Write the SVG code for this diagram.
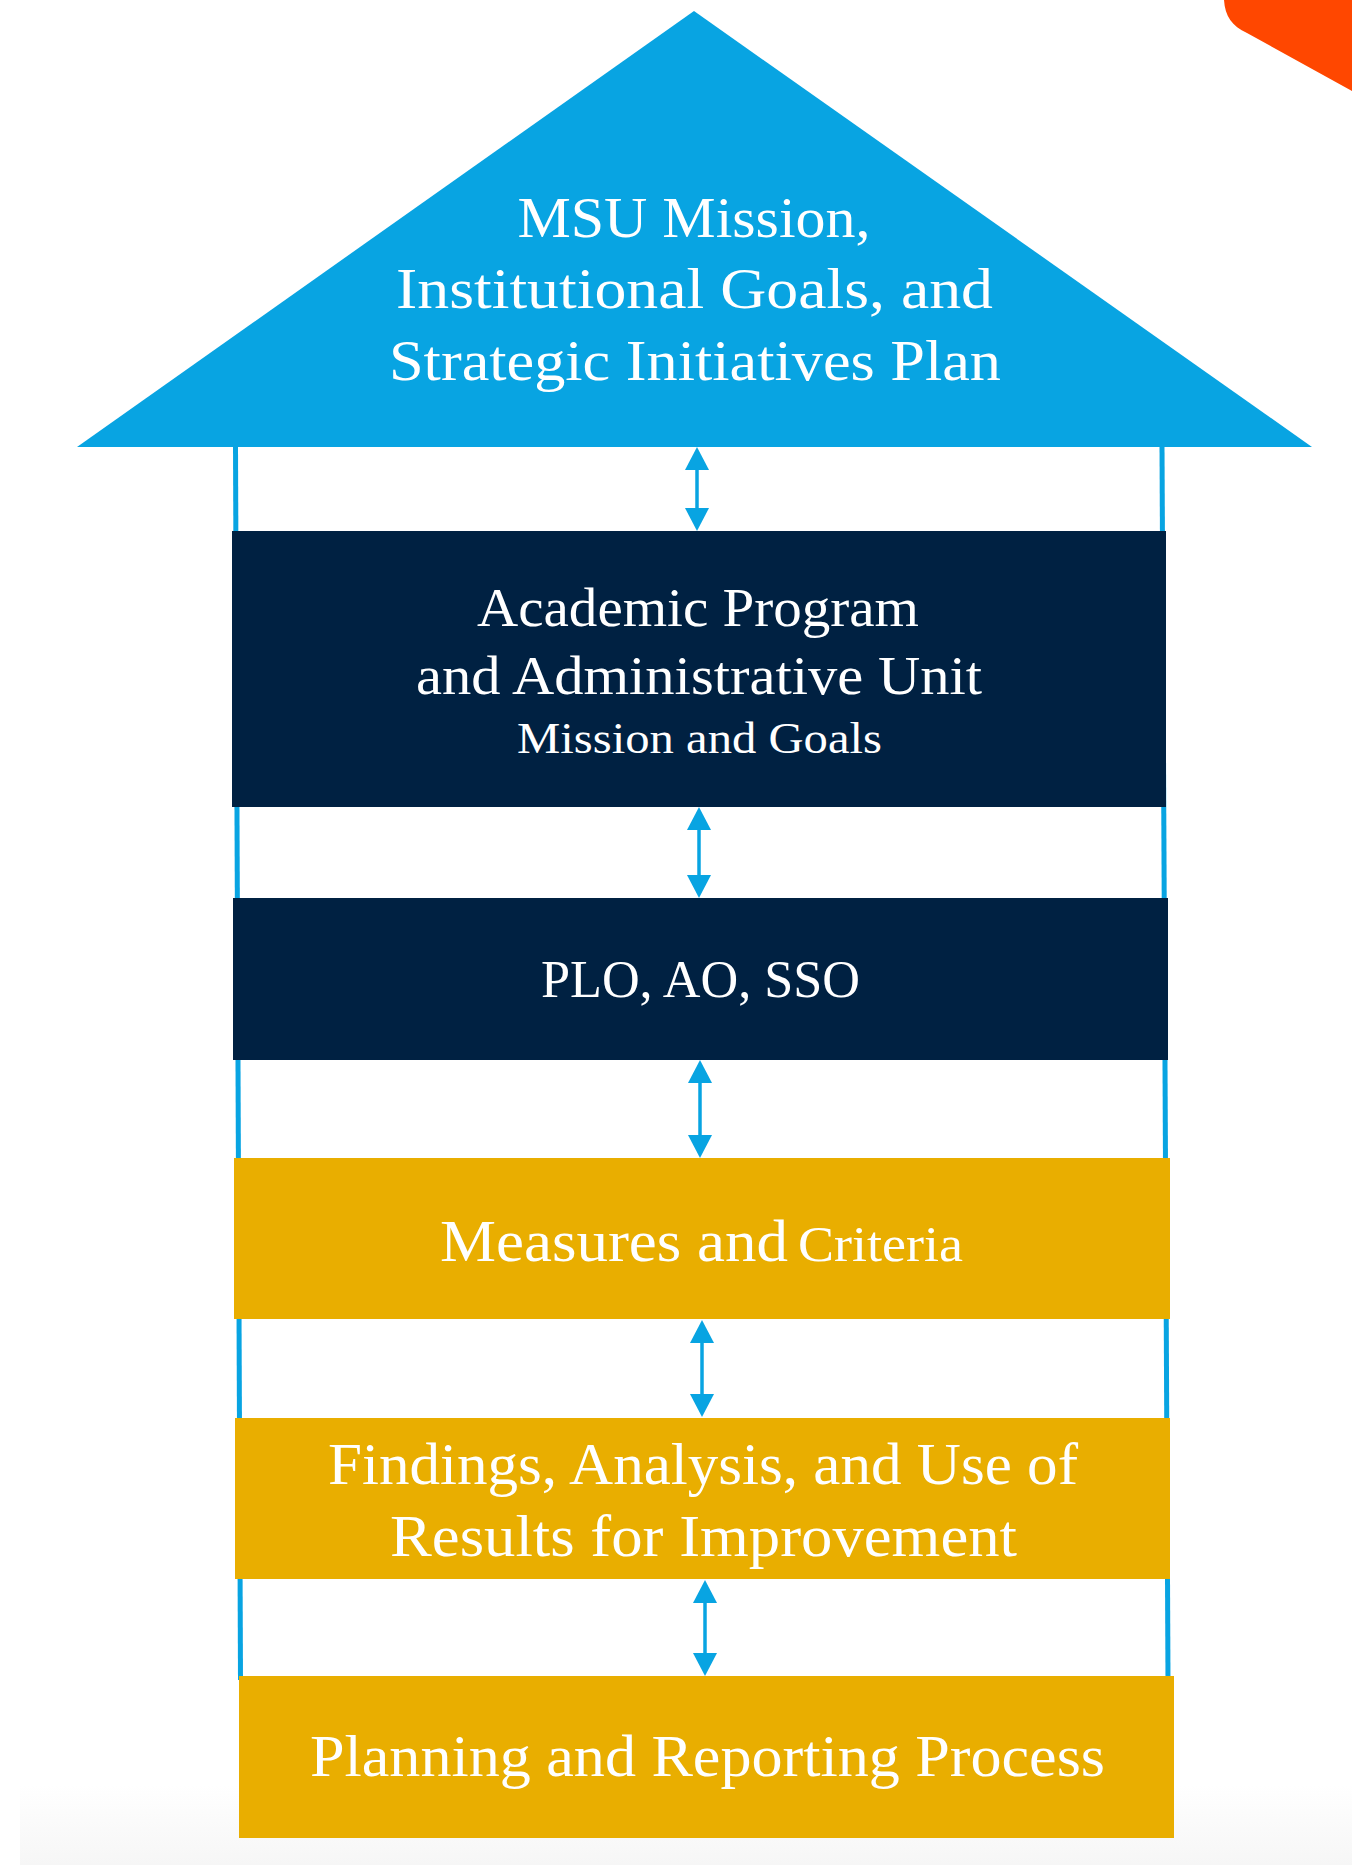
<svg xmlns="http://www.w3.org/2000/svg" width="1352" height="1865" viewBox="0 0 1352 1865">
  <defs>
    <style>
      .t { font-family: "Liberation Serif", "DejaVu Serif", serif; fill: #ffffff; text-anchor: middle; }
      .pillar { stroke: #08a4e2; stroke-width: 5; fill: none; }
      .arrow { stroke: #08a4e2; stroke-width: 3.5; fill: none; marker-start: url(#head); marker-end: url(#head); }
      .navy { fill: #002142; }
      .gold { fill: #e9ae00; }
    </style>
    <marker id="head" viewBox="0 0 23 24" refX="13" refY="12" markerWidth="23" markerHeight="24" markerUnits="userSpaceOnUse" orient="auto-start-reverse">
      <path d="M0,0 L23,12 L0,24 Z" fill="#08a4e2"/>
    </marker>
    <linearGradient id="bgfade" x1="0" y1="0" x2="0" y2="1">
      <stop offset="0" stop-color="#ffffff"/>
      <stop offset="1" stop-color="#f6f6f6"/>
    </linearGradient>
  </defs>

  <rect x="0" y="0" width="1352" height="1865" fill="#ffffff"/>
  <rect x="20" y="1785" width="1332" height="80" fill="url(#bgfade)"/>

  <!-- orange corner shape -->
  <path d="M1224,0 C1225,16 1232,26 1247,33 L1352,91 L1352,0 Z" fill="#ff4700"/>

  <!-- connectors -->
  <g id="connectors">
    <line class="pillar" x1="235.5" y1="446" x2="240.5" y2="1680"/>
    <line class="pillar" x1="1162" y1="446" x2="1168" y2="1680"/>
    <line class="arrow" x1="697" y1="457" x2="697" y2="521"/>
    <line class="arrow" x1="699" y1="817" x2="699" y2="888"/>
    <line class="arrow" x1="700" y1="1070" x2="700" y2="1148"/>
    <line class="arrow" x1="702" y1="1330" x2="702" y2="1407"/>
    <line class="arrow" x1="705" y1="1590" x2="705" y2="1666"/>
  </g>

  <!-- roof -->
  <g id="node-mission">
    <polygon points="694,11 1312,447 77,447" fill="#08a4e2"/>
    <text class="t" x="694" y="237" font-size="57" textLength="353" lengthAdjust="spacingAndGlyphs">MSU Mission,</text>
    <text class="t" x="694.5" y="308" font-size="57" textLength="597" lengthAdjust="spacingAndGlyphs">Institutional Goals, and</text>
    <text class="t" x="695" y="380" font-size="57" textLength="612" lengthAdjust="spacingAndGlyphs">Strategic Initiatives Plan</text>
  </g>

  <g id="node-academic">
    <rect class="navy" x="232" y="531" width="934" height="276"/>
    <text class="t" x="698" y="626" font-size="54" textLength="442" lengthAdjust="spacingAndGlyphs">Academic Program</text>
    <text class="t" x="699" y="694" font-size="54" textLength="566" lengthAdjust="spacingAndGlyphs">and Administrative Unit</text>
    <text class="t" x="699.5" y="753" font-size="45" textLength="365" lengthAdjust="spacingAndGlyphs">Mission and Goals</text>
  </g>

  <g id="node-plo">
    <rect class="navy" x="233" y="898" width="935" height="162"/>
    <text class="t" x="700.5" y="997" font-size="52" textLength="319" lengthAdjust="spacingAndGlyphs">PLO, AO, SSO</text>
  </g>

  <g id="node-measures">
    <rect class="gold" x="234" y="1158" width="936" height="161"/>
    <text class="t" x="614" y="1261" font-size="59" textLength="348" lengthAdjust="spacingAndGlyphs">Measures and</text>
    <text class="t" x="880.5" y="1261" font-size="50" textLength="165" lengthAdjust="spacingAndGlyphs">Criteria</text>
  </g>

  <g id="node-findings">
    <rect class="gold" x="235" y="1418" width="935" height="161"/>
    <text class="t" x="703" y="1484" font-size="59" textLength="750" lengthAdjust="spacingAndGlyphs">Findings, Analysis, and Use of</text>
    <text class="t" x="703.5" y="1556" font-size="59" textLength="627" lengthAdjust="spacingAndGlyphs">Results for Improvement</text>
  </g>

  <g id="node-planning">
    <rect class="gold" x="239" y="1676" width="935" height="162"/>
    <text class="t" x="707.5" y="1776" font-size="59" textLength="795" lengthAdjust="spacingAndGlyphs">Planning and Reporting Process</text>
  </g>
</svg>
